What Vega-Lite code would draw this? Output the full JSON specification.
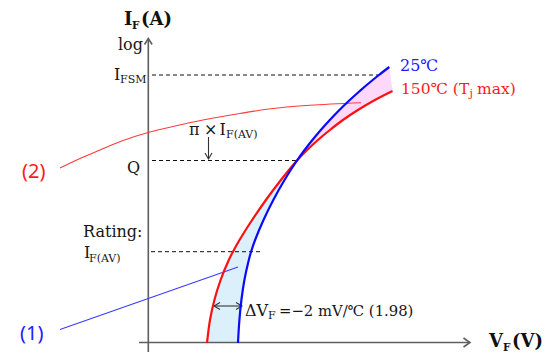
{
  "$schema": "https://vega.github.io/schema/vega-lite/v6.json",
  "width": 558,
  "height": 361,
  "autosize": {"type": "fit", "contains": "padding"},
  "padding": 0,
  "background": "white",
  "config": {"view": {"stroke": null}},
  "datasets": {
    "curves": [
      {"c": "25", "i": 0, "x": 238, "y": 343}, {"c": "25", "i": 1, "x": 239.4, "y": 320}, {"c": "25", "i": 2, "x": 241.4, "y": 300},
      {"c": "25", "i": 3, "x": 244.4, "y": 280}, {"c": "25", "i": 4, "x": 248.8, "y": 260}, {"c": "25", "i": 5, "x": 251, "y": 252},
      {"c": "25", "i": 6, "x": 255.1, "y": 240}, {"c": "25", "i": 7, "x": 263.5, "y": 220}, {"c": "25", "i": 8, "x": 273.3, "y": 200},
      {"c": "25", "i": 9, "x": 284.5, "y": 180}, {"c": "25", "i": 10, "x": 297, "y": 160.5}, {"c": "25", "i": 11, "x": 304.6, "y": 150},
      {"c": "25", "i": 12, "x": 312.4, "y": 140}, {"c": "25", "i": 13, "x": 320.8, "y": 130}, {"c": "25", "i": 14, "x": 329.8, "y": 120},
      {"c": "25", "i": 15, "x": 339.4, "y": 110}, {"c": "25", "i": 16, "x": 349.8, "y": 100}, {"c": "25", "i": 17, "x": 359.8, "y": 91},
      {"c": "25", "i": 18, "x": 366.7, "y": 85}, {"c": "25", "i": 19, "x": 378.9, "y": 75}, {"c": "25", "i": 20, "x": 389.3, "y": 67},
      {"c": "150", "i": 0, "x": 207, "y": 343}, {"c": "150", "i": 1, "x": 210, "y": 320}, {"c": "150", "i": 2, "x": 214.4, "y": 300},
      {"c": "150", "i": 3, "x": 220.6, "y": 280}, {"c": "150", "i": 4, "x": 228.8, "y": 260}, {"c": "150", "i": 5, "x": 232.8, "y": 252},
      {"c": "150", "i": 6, "x": 239.5, "y": 240}, {"c": "150", "i": 7, "x": 252.1, "y": 220}, {"c": "150", "i": 8, "x": 265.9, "y": 200},
      {"c": "150", "i": 9, "x": 280.9, "y": 180}, {"c": "150", "i": 10, "x": 297, "y": 160.5}, {"c": "150", "i": 11, "x": 307.1, "y": 150},
      {"c": "150", "i": 12, "x": 317.9, "y": 140}, {"c": "150", "i": 13, "x": 329.9, "y": 130}, {"c": "150", "i": 14, "x": 342.9, "y": 120},
      {"c": "150", "i": 15, "x": 357.9, "y": 110}, {"c": "150", "i": 16, "x": 374.9, "y": 100}, {"c": "150", "i": 17, "x": 392.5, "y": 91}
    ],
    "bands": [
      {"z": "lo", "y": 343, "xa": 207, "xb": 238}, {"z": "lo", "y": 320, "xa": 210, "xb": 239.4}, {"z": "lo", "y": 300, "xa": 214.4, "xb": 241.4},
      {"z": "lo", "y": 280, "xa": 220.6, "xb": 244.4}, {"z": "lo", "y": 260, "xa": 228.8, "xb": 248.8}, {"z": "lo", "y": 252, "xa": 232.8, "xb": 251},
      {"z": "lo", "y": 240, "xa": 239.5, "xb": 255.1}, {"z": "lo", "y": 220, "xa": 252.1, "xb": 263.5}, {"z": "lo", "y": 200, "xa": 265.9, "xb": 273.3},
      {"z": "lo", "y": 180, "xa": 280.9, "xb": 284.5}, {"z": "lo", "y": 160.5, "xa": 297, "xb": 297},
      {"z": "hi", "y": 160.5, "xa": 297, "xb": 297}, {"z": "hi", "y": 150, "xa": 304.6, "xb": 307.1}, {"z": "hi", "y": 140, "xa": 312.4, "xb": 317.9},
      {"z": "hi", "y": 130, "xa": 320.8, "xb": 329.9}, {"z": "hi", "y": 120, "xa": 329.8, "xb": 342.9}, {"z": "hi", "y": 110, "xa": 339.4, "xb": 357.9},
      {"z": "hi", "y": 100, "xa": 349.8, "xb": 374.9}, {"z": "hi", "y": 91, "xa": 359.8, "xb": 392.5}, {"z": "hi", "y": 85, "xa": 366.7, "xb": 391.6},
      {"z": "hi", "y": 75, "xa": 378.9, "xb": 390.3}, {"z": "hi", "y": 67, "xa": 389.3, "xb": 389.3}
    ],
    "guides": [
      {"g": "axis", "s": "yaxis", "i": 0, "x": 148.3, "y": 352}, {"g": "axis", "s": "yaxis", "i": 1, "x": 148.3, "y": 38.5},
      {"g": "axis", "s": "yarrow", "i": 0, "x": 144.5, "y": 44.5}, {"g": "axis", "s": "yarrow", "i": 1, "x": 148.3, "y": 38.5}, {"g": "axis", "s": "yarrow", "i": 2, "x": 152.1, "y": 44.5},
      {"g": "axis", "s": "xaxis", "i": 0, "x": 139, "y": 342.5}, {"g": "axis", "s": "xaxis", "i": 1, "x": 470, "y": 342.5},
      {"g": "axis", "s": "xarrow", "i": 0, "x": 463.5, "y": 338}, {"g": "axis", "s": "xarrow", "i": 1, "x": 470, "y": 342.5}, {"g": "axis", "s": "xarrow", "i": 2, "x": 463.5, "y": 347},
      {"g": "dash", "s": "ifsm", "i": 0, "x": 152, "y": 75}, {"g": "dash", "s": "ifsm", "i": 1, "x": 378, "y": 75},
      {"g": "dash", "s": "q", "i": 0, "x": 152, "y": 160.5}, {"g": "dash", "s": "q", "i": 1, "x": 296, "y": 160.5},
      {"g": "dash", "s": "rating", "i": 0, "x": 151, "y": 251.7}, {"g": "dash", "s": "rating", "i": 1, "x": 260, "y": 251.7},
      {"g": "ptr", "s": "down", "i": 0, "x": 208.5, "y": 137}, {"g": "ptr", "s": "down", "i": 1, "x": 208.5, "y": 159},
      {"g": "ptr", "s": "downhead", "i": 0, "x": 205, "y": 153}, {"g": "ptr", "s": "downhead", "i": 1, "x": 208.5, "y": 159}, {"g": "ptr", "s": "downhead", "i": 2, "x": 212, "y": 153},
      {"g": "ptr", "s": "dv", "i": 0, "x": 214, "y": 306}, {"g": "ptr", "s": "dv", "i": 1, "x": 242, "y": 306},
      {"g": "ptr", "s": "dvl", "i": 0, "x": 220, "y": 302.5}, {"g": "ptr", "s": "dvl", "i": 1, "x": 214, "y": 306}, {"g": "ptr", "s": "dvl", "i": 2, "x": 220, "y": 309.5},
      {"g": "ptr", "s": "dvr", "i": 0, "x": 236, "y": 302.5}, {"g": "ptr", "s": "dvr", "i": 1, "x": 242, "y": 306}, {"g": "ptr", "s": "dvr", "i": 2, "x": 236, "y": 309.5},
      {"g": "lead2", "s": "l2", "i": 0, "x": 60, "y": 168}, {"g": "lead2", "s": "l2", "i": 1, "x": 80, "y": 158.5}, {"g": "lead2", "s": "l2", "i": 2, "x": 100, "y": 150},
      {"g": "lead2", "s": "l2", "i": 3, "x": 123, "y": 140.5}, {"g": "lead2", "s": "l2", "i": 4, "x": 150, "y": 132}, {"g": "lead2", "s": "l2", "i": 5, "x": 175, "y": 126},
      {"g": "lead2", "s": "l2", "i": 6, "x": 203, "y": 120}, {"g": "lead2", "s": "l2", "i": 7, "x": 240, "y": 113.5}, {"g": "lead2", "s": "l2", "i": 8, "x": 273, "y": 108.5},
      {"g": "lead2", "s": "l2", "i": 9, "x": 310, "y": 105.3}, {"g": "lead2", "s": "l2", "i": 10, "x": 361, "y": 102.8},
      {"g": "lead1", "s": "l1", "i": 0, "x": 60, "y": 329.5}, {"g": "lead1", "s": "l1", "i": 1, "x": 238, "y": 267}
    ],
    "labels": [
      {"k": "bold", "t": "I", "x": 124, "y": 25}, {"k": "bold", "t": "(A)", "x": 141, "y": 25},
      {"k": "bold", "t": "V", "x": 489, "y": 347}, {"k": "bold", "t": "(V)", "x": 512, "y": 347},
      {"k": "boldsub", "t": "F", "x": 132, "y": 29}, {"k": "boldsub", "t": "F", "x": 503, "y": 350.5},
      {"k": "main", "t": "log", "x": 118, "y": 50}, {"k": "main", "t": "I", "x": 114, "y": 80},
      {"k": "main", "t": "Q", "x": 127, "y": 173}, {"k": "main", "t": "Rating:", "x": 83, "y": 237},
      {"k": "main", "t": "I", "x": 84, "y": 258},
      {"k": "main", "t": "π", "x": 189, "y": 135}, {"k": "main", "t": "×", "x": 204, "y": 135}, {"k": "main", "t": "I", "x": 219.5, "y": 135},
      {"k": "main", "t": "ΔV", "x": 245, "y": 316}, {"k": "mid", "t": "=−2 mV/℃ (1.98)", "x": 279, "y": 316},
      {"k": "sub", "t": "FSM", "x": 120, "y": 83}, {"k": "sub", "t": "F(AV)", "x": 89, "y": 262},
      {"k": "sub", "t": "F(AV)", "x": 226, "y": 138}, {"k": "sub", "t": "F", "x": 268, "y": 319},
      {"k": "blue", "t": "25℃", "x": 400, "y": 71},
      {"k": "red", "t": "150℃ (T", "x": 401, "y": 94}, {"k": "red", "t": "max)", "x": 477, "y": 94},
      {"k": "redsub", "t": "j", "x": 469.5, "y": 97},
      {"k": "sansred", "t": "(2)", "x": 22, "y": 178}, {"k": "sansblue", "t": "(1)", "x": 20, "y": 340}
    ]
  },
  "layer": [
    {
      "data": {"name": "bands"},
      "transform": [{"filter": "datum.z === 'lo'"}],
      "mark": {"type": "area", "orient": "horizontal", "fill": "#dcf0fc", "opacity": 1, "interpolate": "catmull-rom"},
      "encoding": {
        "y": {"field": "y", "type": "quantitative", "scale": {"domain": [0, 361], "reverse": true, "nice": false, "zero": false}, "axis": null},
        "x": {"field": "xa", "type": "quantitative", "scale": {"domain": [0, 558], "nice": false, "zero": false}, "axis": null},
        "x2": {"field": "xb"}
      }
    },
    {
      "data": {"name": "bands"},
      "transform": [{"filter": "datum.z === 'hi'"}],
      "mark": {"type": "area", "orient": "horizontal", "fill": "#fdd8fa", "opacity": 1, "interpolate": "catmull-rom"},
      "encoding": {
        "y": {"field": "y", "type": "quantitative"},
        "x": {"field": "xa", "type": "quantitative"},
        "x2": {"field": "xb"}
      }
    },
    {
      "data": {"name": "guides"},
      "transform": [{"filter": "datum.g === 'axis'"}],
      "mark": {"type": "line", "stroke": "#5f5f5f", "strokeWidth": 1.6},
      "encoding": {
        "x": {"field": "x", "type": "quantitative"},
        "y": {"field": "y", "type": "quantitative"},
        "detail": {"field": "s"},
        "order": {"field": "i"}
      }
    },
    {
      "data": {"name": "guides"},
      "transform": [{"filter": "datum.g === 'dash'"}],
      "mark": {"type": "line", "stroke": "#111111", "strokeWidth": 1, "strokeDash": [4, 3]},
      "encoding": {
        "x": {"field": "x", "type": "quantitative"},
        "y": {"field": "y", "type": "quantitative"},
        "detail": {"field": "s"},
        "order": {"field": "i"}
      }
    },
    {
      "data": {"name": "guides"},
      "transform": [{"filter": "datum.g === 'ptr'"}],
      "mark": {"type": "line", "stroke": "#333333", "strokeWidth": 1.1},
      "encoding": {
        "x": {"field": "x", "type": "quantitative"},
        "y": {"field": "y", "type": "quantitative"},
        "detail": {"field": "s"},
        "order": {"field": "i"}
      }
    },
    {
      "data": {"name": "guides"},
      "transform": [{"filter": "datum.g === 'lead2'"}],
      "mark": {"type": "line", "stroke": "#ff3b3b", "strokeWidth": 1.1, "interpolate": "catmull-rom"},
      "encoding": {
        "x": {"field": "x", "type": "quantitative"},
        "y": {"field": "y", "type": "quantitative"},
        "order": {"field": "i"}
      }
    },
    {
      "data": {"name": "guides"},
      "transform": [{"filter": "datum.g === 'lead1'"}],
      "mark": {"type": "line", "stroke": "#3b3bff", "strokeWidth": 1.1},
      "encoding": {
        "x": {"field": "x", "type": "quantitative"},
        "y": {"field": "y", "type": "quantitative"},
        "order": {"field": "i"}
      }
    },
    {
      "data": {"name": "curves"},
      "transform": [{"filter": "datum.c === '150'"}],
      "mark": {"type": "line", "stroke": "#ff1010", "strokeWidth": 2.2, "interpolate": "catmull-rom"},
      "encoding": {
        "x": {"field": "x", "type": "quantitative"},
        "y": {"field": "y", "type": "quantitative"},
        "order": {"field": "i"}
      }
    },
    {
      "data": {"name": "curves"},
      "transform": [{"filter": "datum.c === '25'"}],
      "mark": {"type": "line", "stroke": "#0a0aff", "strokeWidth": 2.2, "interpolate": "catmull-rom"},
      "encoding": {
        "x": {"field": "x", "type": "quantitative"},
        "y": {"field": "y", "type": "quantitative"},
        "order": {"field": "i"}
      }
    },
    {
      "data": {"name": "labels"},
      "transform": [{"filter": "datum.k === 'bold'"}],
      "mark": {"type": "text", "align": "left", "baseline": "alphabetic", "font": "DejaVu Serif", "fontWeight": "bold", "fontSize": 18, "color": "#111111"},
      "encoding": {"x": {"field": "x", "type": "quantitative"}, "y": {"field": "y", "type": "quantitative"}, "text": {"field": "t"}}
    },
    {
      "data": {"name": "labels"},
      "transform": [{"filter": "datum.k === 'boldsub'"}],
      "mark": {"type": "text", "align": "left", "baseline": "alphabetic", "font": "DejaVu Serif", "fontWeight": "bold", "fontSize": 10.5, "color": "#111111"},
      "encoding": {"x": {"field": "x", "type": "quantitative"}, "y": {"field": "y", "type": "quantitative"}, "text": {"field": "t"}}
    },
    {
      "data": {"name": "labels"},
      "transform": [{"filter": "datum.k === 'main'"}],
      "mark": {"type": "text", "align": "left", "baseline": "alphabetic", "font": "DejaVu Serif", "fontSize": 16, "color": "#161616"},
      "encoding": {"x": {"field": "x", "type": "quantitative"}, "y": {"field": "y", "type": "quantitative"}, "text": {"field": "t"}}
    },
    {
      "data": {"name": "labels"},
      "transform": [{"filter": "datum.k === 'mid'"}],
      "mark": {"type": "text", "align": "left", "baseline": "alphabetic", "font": "DejaVu Serif", "fontSize": 14.8, "color": "#161616"},
      "encoding": {"x": {"field": "x", "type": "quantitative"}, "y": {"field": "y", "type": "quantitative"}, "text": {"field": "t"}}
    },
    {
      "data": {"name": "labels"},
      "transform": [{"filter": "datum.k === 'sub'"}],
      "mark": {"type": "text", "align": "left", "baseline": "alphabetic", "font": "DejaVu Serif", "fontSize": 11, "color": "#161616"},
      "encoding": {"x": {"field": "x", "type": "quantitative"}, "y": {"field": "y", "type": "quantitative"}, "text": {"field": "t"}}
    },
    {
      "data": {"name": "labels"},
      "transform": [{"filter": "datum.k === 'blue'"}],
      "mark": {"type": "text", "align": "left", "baseline": "alphabetic", "font": "DejaVu Serif", "fontSize": 16, "color": "#2020ff"},
      "encoding": {"x": {"field": "x", "type": "quantitative"}, "y": {"field": "y", "type": "quantitative"}, "text": {"field": "t"}}
    },
    {
      "data": {"name": "labels"},
      "transform": [{"filter": "datum.k === 'red'"}],
      "mark": {"type": "text", "align": "left", "baseline": "alphabetic", "font": "DejaVu Serif", "fontSize": 15.5, "color": "#ff1a1a"},
      "encoding": {"x": {"field": "x", "type": "quantitative"}, "y": {"field": "y", "type": "quantitative"}, "text": {"field": "t"}}
    },
    {
      "data": {"name": "labels"},
      "transform": [{"filter": "datum.k === 'redsub'"}],
      "mark": {"type": "text", "align": "left", "baseline": "alphabetic", "font": "DejaVu Serif", "fontSize": 11, "color": "#ff1a1a"},
      "encoding": {"x": {"field": "x", "type": "quantitative"}, "y": {"field": "y", "type": "quantitative"}, "text": {"field": "t"}}
    },
    {
      "data": {"name": "labels"},
      "transform": [{"filter": "datum.k === 'sansred'"}],
      "mark": {"type": "text", "align": "left", "baseline": "alphabetic", "font": "Noto Sans", "fontSize": 20, "color": "#ff1a1a"},
      "encoding": {"x": {"field": "x", "type": "quantitative"}, "y": {"field": "y", "type": "quantitative"}, "text": {"field": "t"}}
    },
    {
      "data": {"name": "labels"},
      "transform": [{"filter": "datum.k === 'sansblue'"}],
      "mark": {"type": "text", "align": "left", "baseline": "alphabetic", "font": "Noto Sans", "fontSize": 20, "color": "#2020ff"},
      "encoding": {"x": {"field": "x", "type": "quantitative"}, "y": {"field": "y", "type": "quantitative"}, "text": {"field": "t"}}
    }
  ]
}
